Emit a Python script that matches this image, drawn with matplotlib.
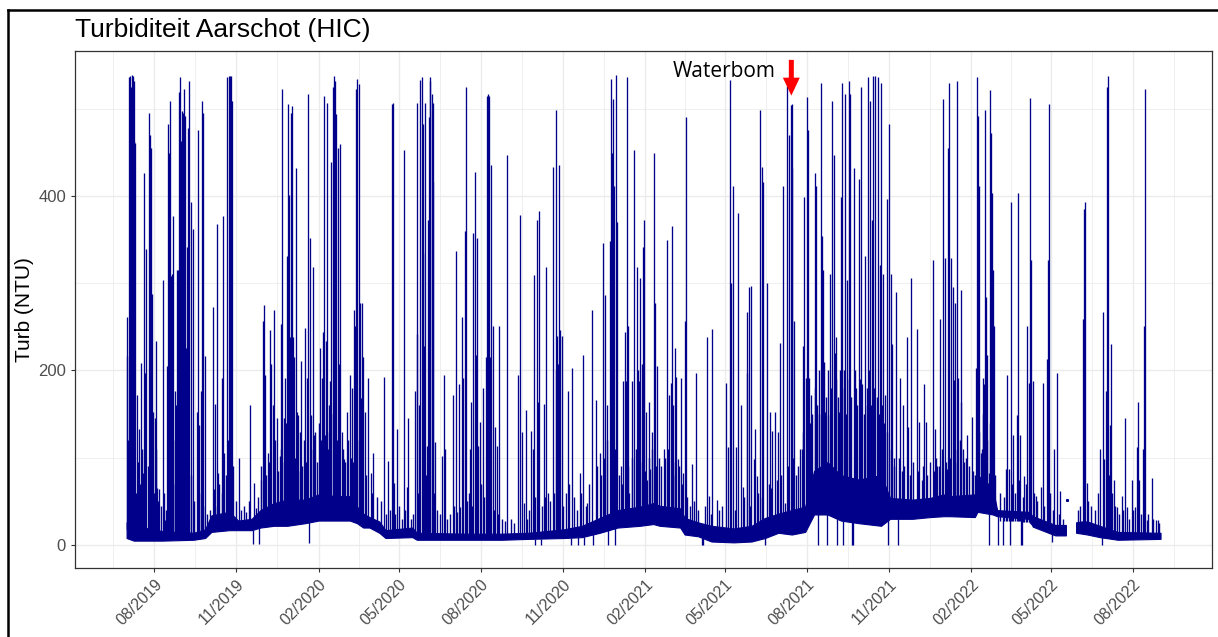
import numpy as np
import matplotlib
matplotlib.use("Agg")
import matplotlib.pyplot as plt
import matplotlib.dates as mdates
from matplotlib.lines import Line2D

start = np.datetime64("2019-07-01")

# baseline band: days since start, lower / upper edge (NTU); nan = data gap
band_day = [0, 8, 40, 75, 88, 95, 115, 125, 140, 150,
            165, 180, 200, 215, 235, 250, 258, 265, 272, 283,
            290, 320, 325, 380, 420, 450, 490, 510, 530, 550,
            575, 590, 597, 620, 625, 640, 655, 680, 700, 715,
            730, 745, 760, 770, 785, 800, 820, 845, 855, 880,
            900, 915, 922, 950, 953, 970, 975, 1010, 1015, 1030,
            1040, 1052, np.nan, 1063.4, 1070, 1076, 1090, 1110, 1158]
band_lo = [8, 5, 5, 6, 8, 15, 17, 17, 17, 20,
           22, 22, 25, 28, 28, 28, 25, 20, 20, 14,
           8, 9, 6, 6, 6, 7, 8, 9, 14, 20,
           22, 24, 22, 20, 12, 10, 4, 3, 4, 8,
           14, 12, 15, 35, 35, 28, 25, 22, 30, 30,
           32, 33, 33, 32, 38, 35, 33, 30, 21, 15,
           11, 11, np.nan, 14, 13, 12, 9, 6, 7]
band_hi = [26, 22, 16, 14, 18, 34, 38, 28, 30, 40,
           48, 52, 52, 58, 56, 56, 44, 36, 32, 27,
           17, 20, 14, 13, 13, 14, 18, 22, 31, 40,
           44, 48, 45, 42, 31, 26, 22, 19, 22, 31,
           36, 40, 44, 85, 95, 80, 75, 80, 54, 52,
           54, 58, 56, 58, 80, 66, 40, 38, 33, 27,
           23, 23, np.nan, 26, 27, 27, 22, 15, 14]

# tall peaks (and dips): days since start, NTU
spike_day = [0, 1, 2.3, 3.4, 4.9, 6, 7.2, 7.9, 8.6, 9.8, 11.3, 12.4, 14.2, 16.1, 18, 19.1,
             20.2, 22.1, 23.6, 24.7, 25.8, 27.3, 28.4, 29.9, 31.8, 32.9, 34.4, 36.6, 40.8,
             43, 45.6, 46.7, 47.8, 49, 50.1, 51.2, 52.3, 53.8, 55.3, 56.8, 57.9, 59, 59.8,
             60.9, 62, 63.1, 64.3, 65.4, 66.5, 67.6, 69.1, 70.2, 71.7, 74, 78.5, 80.3, 81.4,
             82.9, 84.1, 85.5, 87.4, 96.4, 97.9, 99.4, 100.9, 102.3, 106.5, 108, 109.4,
             112.8, 114.3, 115.4, 116.5, 117.3, 118.4, 126.2, 138.6, 141.2, 142.7, 148.6,
             150.5, 152.4, 153.5, 155, 158.3, 161, 162.1, 163.6, 164.7, 168.4, 171.4, 172.5,
             174.4, 175.9, 177.4, 179.2, 180.4, 181.9, 183, 183.7, 185.2, 186.3, 187.8,
             189.3, 190.8, 192.3, 195.3, 200.2, 202.4, 203.5, 204.6, 205, 206.5, 208.4,
             209.9, 216.6, 218.4, 219.9, 221.1, 222.6, 223.7, 224.8, 226.3, 228.1, 229.3,
             230.8, 232.3, 233.4, 234.9, 236.4, 237.5, 239, 240.8, 243.8, 246.8, 250.2,
             252, 253.5, 254.7, 256.2, 257.3, 258.4, 259.9, 261, 262.9, 264, 265.1, 266.6,
             270.7,
             273.3, 276.3, 288.3, 293.1, 297.6, 298.7, 299.9, 303.2, 310.3, 313.7, 315.5,
             323, 324.9, 325.6, 327.8, 329, 330.5, 331.6, 332.3, 333.4, 334.6, 336.1, 337.2,
             338.3, 339.4, 340.2, 341.7, 342.8, 343.5, 345.4, 353.2, 355.1, 356.6, 365.2,
             368.5, 371.9, 373, 375.3, 376.4, 378.6, 379.7, 384.6, 386.1, 388, 389.8, 391.3,
             392.1, 393.9, 395.8, 398.8, 402.1, 403.3, 404.7, 405.5, 407, 408.5, 410.7, 413,
             414.4, 417.4, 426.4, 438.7, 440.6, 442.8, 445.1, 446.9, 453.3, 454.8, 455.9,
             457.4, 459.2, 460.7, 462.2, 464.1, 467.1, 470.1, 471.9, 477.2, 480.5, 481.3,
             482.4, 483.1, 484.6, 485.4, 487.2, 494.7, 497.3, 498.8, 505.9, 507.8, 510.8,
             512.3, 515.2, 521.2, 522.7, 525.3, 530.2, 533.2, 536.2, 537.6, 539.5, 541.4,
             542.5, 543.6, 544.4, 545.9, 547, 547.7, 549.6, 553.7, 556.3, 558.2, 559.3, 560,
             561.2, 563, 565.6, 568.3, 571.2, 572.7, 574.2, 575.3, 576.8, 578.3, 579.4,
             581.7, 583.2, 584.7, 586.2, 588.4, 590.3, 591.8, 593.6,
             601.9, 605.6, 607.5, 609.3, 610.8, 612, 613.8, 615.3, 617.9, 620.5, 623.5, 625,
             626.1, 632.9, 637.3, 644.1, 645.9, 650.4, 652.6, 656, 660.9, 671.3, 673.2,
             675.8, 677.3, 678.8, 682.5, 685.1, 687.7, 690.7, 694.5, 695.2, 696.7, 699.7,
             702.7, 704.2, 705.7, 709.8, 711.6, 713.1, 715, 717.6, 720.6, 723.2, 726.2,
             729.2, 731.4, 735.5, 737.8, 739.3, 741.9, 744, 744.8, 745.6, 747.5, 754.2,
             757.2, 759, 760.9, 762.4, 763.1, 764.6, 766.5, 768.7, 770.6, 772.1, 774.3,
             777.7, 779.2, 780.3, 782.2, 784, 785.2, 787.8, 790, 791.9, 794.1, 796, 798.2,
             799.7, 800.8, 802.7, 804.6, 807.2, 808.7, 810.2, 812, 813.2, 814.7, 816.9,
             819.9, 822.1, 824, 827, 828.8, 830.7, 832.6, 834.4, 835.9, 838.2, 841.2, 843.8,
             845.3, 847.5, 849.8, 851.2, 853.1, 854.2, 855.7, 857.2, 861.7, 863.6, 866.2,
             869.9, 873.6, 875.5, 878.5, 884.8, 887.8, 890.4, 893.1, 895.3, 902.8, 905.4,
             908, 911, 914, 916.6, 918.4, 920.3,
             921.5, 923.7, 925.2, 926.7, 928.2, 929.7, 931.2, 934.1, 934.9, 936.4, 941.6,
             946.8, 951.3, 952.8, 953.9, 955.1, 956.5, 958.8, 960.6, 961.8, 962.9, 964,
             965.5, 966.2, 967, 967.7, 969.2, 970.7, 971.8, 975.6, 981.9, 984.9, 986.4,
             988.6, 989.4, 990.5, 993.1, 997.6, 998.7, 1000.6, 1001.7, 1003.2, 1005.1,
             1008.1, 1010.7, 1012.2, 1013.3, 1014.8, 1018.5, 1023.7, 1026, 1031.2, 1032.3,
             1033.4, 1036.4, 1039, 1042.4, 1045.4, 1070.8, 1071.9, 1073, 1075.3, 1090.2,
             1092, 1093.2, 1094.7, 1096.9, 1098.4, 1099.5, 1101.4, 1102.9, 1105.5, 1108.9,
             1114.8, 1117.8, 1120, 1126, 1129, 1131.6, 1133.1, 1134.2, 1138, 1139.8, 1141,
             1142.4, 1148.4, 1152.9, 1155.1]
spike_val = [217, 261, 536, 538, 525, 539, 538, 532, 463, 461, 172, 83, 133, 209, 83, 426,
             197, 339, 91, 495, 470, 455, 288, 153, 145, 234, 65, 64, 304,
             29, 205, 482, 449, 509, 308, 311, 377, 176, 160, 315, 315, 519, 536,
             463, 497, 495, 523, 492, 226, 342, 478, 532, 393, 362, 153, 476, 137,
             176, 509, 495, 217, 273, 64, 162, 368, 83, 191, 377, 106,
             536, 537, 537, 537, 509, 509, 100, 160, 1, 71, 1,
             75, 257, 275, 195, 106, 246, 207, 160, 269, 145, 102, 253,
             523, 145, 191, 331, 505, 401, 238, 495, 503, 238, 215,
             432, 153, 149, 211, 249, 191, 517, 2, 352, 149, 319,
             126, 226, 191, 244, 515, 126, 234, 507, 160, 188, 439,
             525, 537, 532, 494, 455, 207, 459, 129, 98, 153, 195,
             180, 95, 269, 251, 523, 534, 528, 277, 168, 277, 215, 153,
             191,
             83, 106, 193, 96, 505, 507, 71, 133, 453, 67, 145,
             176, 507, 242, 160, 533, 536, 482, 335, 228, 507, 114, 373,
             490, 532, 536, 517, 416, 507, 118, 102, 195, 110, 172,
             337, 184, 44, 261, 191, 360, 525, 110, 164, 358, 428, 218,
             352, 114, 141, 180, 215, 515, 517, 515, 215, 435, 251, 135,
             114, 251, 447, 195, 378, 129, 48, 155, 131, 110, 310,
             0, 373, 164, 383, 0, 162, 319, 60, 433, 201, 499,
             240, 207, 435, 246, 240, 176, 0, 203, 0, 83, 218,
             0, 48, 269, 0, 166, 106, 346, 286, 160, 0, 348,
             534, 449, 511, 412, 0, 539, 370, 91, 188, 244, 188, 536,
             251, 60, 188, 453, 319, 201, 188, 306, 207, 342, 373,
             153, 75, 164, 87, 129, 449, 277, 205,
             110, 350, 172, 186, 366, 160, 226, 193, 98, 191, 83, 257,
             490, 93, 197, 0, 0, 238, 56, 248, 52, 186, 112,
             533, 300, 412, 112, 381, 160, 67, 197, 267, 296, 297,
             98, 133, 79, 499, 433, 416, 0, 300, 153, 131, 153,
             129, 231, 412, 48, 526, 470, 504, 505, 432, 257, 110,
             228, 399, 191, 513, 476, 191, 172, 60, 426, 412, 0,
             529, 354, 315, 153, 0, 149, 311, 509, 447, 238, 0, 153,
             399, 530, 0, 517, 304, 532, 517, 0, 0, 432, 180,
             420, 525, 184, 331, 160, 536, 509, 373, 538, 538, 536, 321,
             530, 311, 172, 397, 0, 482, 311, 230, 290, 0, 191,
             160, 238, 135, 306, 248, 141, 75, 184, 141, 327, 133,
             91, 259, 511, 329, 87, 455,
             530, 329, 296, 189, 277, 532, 191, 292, 164, 110, 126,
             147, 203, 536, 492, 412, 106, 191, 184, 499, 284, 218,
             83, 0, 521, 472, 403, 315, 251, 0, 0, 87, 195,
             87, 0, 393, 126, 149, 403, 126, 0, 0, 79,
             251, 186, 512, 327, 188, 56, 67, 186, 213, 327,
             505, 3, 110, 197, 62, 259, 385, 393, 71, 110,
             0, 267, 98, 176, 525, 538, 137, 230, 75, 44,
             56, 145, 44, 75, 44, 112, 164, 75, 110, 251, 523,
             29, 77, 29, 29]

# smaller peaks that make up the ragged lower band
small_day = [1.5, 3, 5.5, 10.5, 13, 15, 17, 21, 26.5, 30.5, 33.5, 35.5, 38, 42, 44,
             48.5, 52, 54.5, 58.5, 61.5, 66, 68, 72.5, 76, 79.5, 83.5, 86, 90, 93,
             98, 101, 104, 107, 111, 113.5, 119.5, 122,
             128, 131, 134, 137, 145, 147,
             151, 154, 156.5, 159.5, 166, 169.5, 173, 176.5, 178, 182.5, 188.5, 191.5, 194,
             197, 199, 201, 207, 211, 213, 215, 217.5, 220.5, 225.5, 227, 231.5, 235.5, 238,
             242, 245, 248, 251, 255.5, 260.5, 263.5, 268,
             275, 280, 285, 291, 295, 301, 305, 308, 312, 318, 321, 326,
             335.5, 344.5, 348, 351, 359, 362, 367, 370, 381, 383, 387, 396.8, 400, 406,
             411.5, 416, 420, 424, 430, 434, 448, 451, 457,
             465, 469, 474, 479, 489, 492, 496, 501, 504, 509, 514, 518, 527, 531, 535,
             538.5, 546.5, 551, 555, 562, 566.5, 570, 573.5, 577.5, 580.5, 585.5, 589,
             592.5, 596,
             599, 603, 606.5, 611.5, 614.5, 619, 622, 628, 631, 635, 640, 648, 655, 663,
             667, 681, 692, 698, 707, 712, 719, 722, 728, 733, 740.5, 746.5, 750, 752, 756,
             758, 765.5, 767.5,
             771, 773, 775, 776, 778.5, 781, 783, 786, 789, 793, 795, 797, 799, 801.5,
             803.5, 806, 809.5, 811, 815.5, 818, 821, 823, 826, 829.7, 831.5, 833.5, 837,
             840, 842.5, 846.5, 848.5, 852, 856, 859,
             860, 865, 868, 871, 877, 881, 886, 892, 897, 900, 904, 907, 910, 913, 917.5,
             922.5, 927.5, 930.5, 933, 938, 940, 944, 948, 950, 954.5, 957.5, 959.5, 963.5,
             966.8, 968.5, 972.5,
             978, 983, 991.5, 995, 999.5, 1004, 1007, 1011.5, 1016, 1020, 1028, 1034, 1038,
             1044, 1049, 1066, 1068, 1077, 1080, 1085, 1088, 1097.5, 1100.5, 1104, 1107,
             1112, 1116, 1123, 1127, 1136, 1144, 1150, 1156]
small_val = [120, 90, 150, 60, 95, 70, 110, 65, 80, 60, 110, 50, 45, 60, 40,
             90, 120, 70, 140, 90, 60, 100, 80, 50, 40, 60, 45, 35, 40,
             55, 45, 70, 60, 80, 120, 90, 50,
             40, 45, 38, 50, 42, 55,
             90, 110, 80, 95, 120, 85, 110, 95, 140, 120, 100, 85, 130,
             90, 120, 95, 110, 130, 95, 140, 120, 100, 110, 130, 150, 120, 130,
             110, 95, 120, 100, 130, 120, 100, 80,
             60, 55, 50, 35, 40, 35, 45, 30, 40, 30, 35, 60,
             80, 60, 40, 35, 30, 35, 45, 38, 50, 60, 45, 70, 55, 45,
             40, 35, 30, 28, 30, 25, 30, 40, 55,
             45, 55, 50, 60, 45, 60, 70, 55, 40, 60, 45, 70, 90, 80, 100,
             120, 110, 80, 70, 90, 100, 110, 90, 95, 85, 100, 110,
             90, 100,
             90, 100, 110, 95, 80, 90, 70, 55, 45, 50, 40, 45, 35, 40,
             45, 40, 55, 45, 60, 55, 70, 65, 75, 80, 90, 100, 80, 90, 110,
             130, 140, 150,
             180, 160, 200, 150, 190, 210, 170, 200, 180, 220, 190, 170, 200, 180,
             200, 150, 190, 170, 200, 160, 190, 170, 150, 180, 200, 160, 180,
             170, 150, 160, 140, 130, 110, 100,
             90, 100, 85, 90, 80, 95, 85, 90, 80, 95, 85, 100, 90, 110, 95,
             100, 110, 95, 120, 95, 100, 90, 85, 80, 130, 110, 150, 120,
             140, 130, 80,
             60, 55, 70, 60, 75, 55, 70, 80, 60, 50, 45, 60, 40,
             35, 30, 40, 45, 50, 45, 40, 60, 90, 80, 60, 45,
             35, 40, 30, 40, 35, 35, 30, 25]

lone_day = [1053.6]
lone_val = [52]

x_major = np.arange(np.datetime64("2019-08"), np.datetime64("2022-09"), 3).astype("datetime64[D]")

line_col = "#00008B"
base = mdates.date2num(start)

fig = plt.figure(figsize=(12.18, 6.37), dpi=100)
W, H = 1218.0, 637.0
ax = fig.add_axes([74.7 / W, 1 - 568.3 / H, (1211.7 - 74.7) / W, (568.3 - 50.7) / H])

bd = np.array(band_day, dtype=float)
blo = np.array(band_lo, dtype=float)
bhi = np.array(band_hi, dtype=float)
gap = np.where(np.isnan(bd))[0]
for seg in np.split(np.arange(len(bd)), gap):
    seg = seg[~np.isnan(bd[seg])]
    ax.fill_between(base + bd[seg], blo[seg], bhi[seg], color=line_col, lw=0.8,
                    edgecolor=line_col, zorder=3)

ok = ~np.isnan(bd)
for days, vals, lw in [(small_day, small_val, 1.0), (spike_day, spike_val, 0.95)]:
    sd = np.array(days, dtype=float)
    sv = np.array(vals, dtype=float)
    foot = np.interp(sd, bd[ok], blo[ok])
    top = np.interp(sd, bd[ok], bhi[ok])
    ax.vlines(base + sd, np.where(sv < foot, foot, top * 0.7), sv, color=line_col, lw=lw, zorder=3)
ax.plot(base + np.array(lone_day), lone_val, "s", ms=1.2, color=line_col, zorder=3)

# axes styling, ggplot theme_bw look
ax.set_ylim(-26.7, 566.5)
ax.set_xlim(base - 58.1, base + 1215.3)
ax.set_yticks([0, 200, 400])
ax.set_yticks([100, 300, 500], minor=True)
xm = mdates.date2num(x_major)
ax.set_xticks(xm)
ax.set_xticklabels([d.item().strftime("%m/%Y") for d in x_major])
step = xm[1] - xm[0]
minor = np.concatenate([[xm[0] - step / 2], (xm[:-1] + xm[1:]) / 2, [xm[-1] + step / 2]])
ax.set_xticks(minor, minor=True)
ax.grid(which="major", color="#EBEBEB", lw=1.0, zorder=0)
ax.grid(which="minor", color="#EBEBEB", lw=0.55, zorder=0)
ax.set_axisbelow(True)
for s in ax.spines.values():
    s.set_color("#333333")
    s.set_linewidth(0.9)
ax.tick_params(which="major", length=3.2, width=0.8, color="#333333", labelcolor="#4D4D4D")
ax.tick_params(which="minor", length=0)
ax.tick_params(axis="y", labelsize=12, pad=3)
ax.tick_params(axis="x", labelsize=11.5, pad=3)
for lab in ax.get_yticklabels() + ax.get_xticklabels():
    lab.set_family("Liberation Sans")
for lab in ax.get_xticklabels():
    lab.set_rotation(45)
    lab.set_ha("right")
    lab.set_va("top")
    lab.set_rotation_mode("anchor")

fig.text(74.7 / W, 1 - 37.5 / H, "Turbiditeit Aarschot (HIC)", family="Liberation Sans",
         fontsize=19, va="baseline", ha="left")
fig.text(25 / W, 1 - 310 / H, "Turb (NTU)", family="Liberation Sans", fontsize=15,
         rotation=90, va="center", ha="center")

# annotation
fig.text(673 / W, 1 - 77 / H, "Waterbom", family="Open Sans", fontsize=15, va="baseline")
ax.arrow(base + 744.5, 556, 0, -41, width=5.6, head_width=19, head_length=20.6,
         length_includes_head=True, color="#FF0000", lw=0, zorder=5, clip_on=False)

# outer frame
fig.add_artist(Line2D([8 / W, 8 / W], [0, 1 - 10 / H], transform=fig.transFigure, color="black", lw=1.8))
fig.add_artist(Line2D([8 / W, 1], [1 - 10 / H, 1 - 10 / H], transform=fig.transFigure, color="black", lw=1.8))

fig.savefig("out.png", dpi=100)
